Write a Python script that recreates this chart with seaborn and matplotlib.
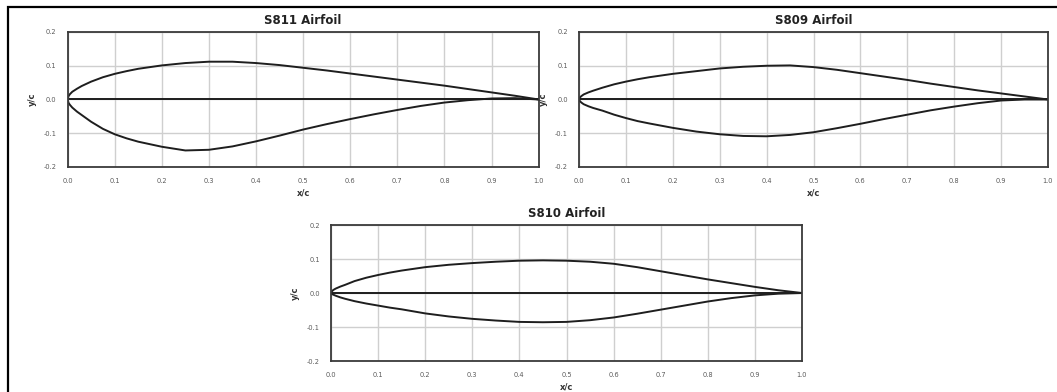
import numpy as np
import pandas as pd
import matplotlib
matplotlib.use("Agg")
import matplotlib.pyplot as plt
from matplotlib.patches import Rectangle
import seaborn as sns

# ---- data ----
x_pts = [0.0, 0.002, 0.005, 0.01, 0.02, 0.03, 0.05, 0.075, 0.1, 0.125, 0.15, 0.2, 0.25, 0.3,
         0.35, 0.4, 0.45, 0.5, 0.55, 0.6, 0.65, 0.7, 0.75, 0.8, 0.85, 0.9, 0.95, 1.0]

s811_upper = [0.0, 0.010, 0.016, 0.023, 0.032, 0.040, 0.053, 0.066, 0.076, 0.084, 0.091, 0.101, 0.108, 0.112,
              0.112, 0.108, 0.102, 0.094, 0.086, 0.077, 0.068, 0.059, 0.050, 0.041, 0.031, 0.021, 0.011, 0.0]
s811_lower = [0.0, -0.010, -0.016, -0.024, -0.036, -0.046, -0.066, -0.087, -0.103, -0.115, -0.125, -0.140, -0.151, -0.149,
              -0.139, -0.124, -0.107, -0.089, -0.073, -0.058, -0.044, -0.031, -0.019, -0.009, -0.002, 0.003, 0.004, 0.0]

s809_upper = [0.0, 0.006, 0.010, 0.015, 0.021, 0.026, 0.035, 0.045, 0.053, 0.060, 0.066, 0.076, 0.084, 0.092,
              0.097, 0.100, 0.101, 0.096, 0.088, 0.078, 0.068, 0.058, 0.047, 0.037, 0.027, 0.018, 0.009, 0.0]
s809_lower = [0.0, -0.005, -0.009, -0.014, -0.020, -0.025, -0.033, -0.045, -0.055, -0.064, -0.071, -0.084, -0.095, -0.103,
              -0.108, -0.109, -0.105, -0.097, -0.085, -0.072, -0.058, -0.045, -0.032, -0.021, -0.011, -0.003, 0.0, 0.0]

s810_upper = [0.0, 0.005, 0.009, 0.013, 0.019, 0.024, 0.035, 0.045, 0.053, 0.060, 0.066, 0.076, 0.083, 0.088,
              0.092, 0.095, 0.096, 0.095, 0.092, 0.086, 0.076, 0.064, 0.052, 0.040, 0.029, 0.018, 0.008, 0.0]
s810_lower = [0.0, -0.003, -0.005, -0.008, -0.013, -0.017, -0.024, -0.031, -0.037, -0.043, -0.048, -0.060, -0.069, -0.076,
              -0.081, -0.085, -0.086, -0.085, -0.080, -0.072, -0.061, -0.049, -0.037, -0.025, -0.015, -0.007, -0.002, 0.0]

chord_x = [0.0, 1.0]
chord_y = [0.0, 0.0]

titles = ["S811 Airfoil", "S809 Airfoil", "S810 Airfoil"]
uppers = [s811_upper, s809_upper, s810_upper]
lowers = [s811_lower, s809_lower, s810_lower]
x_ticks = [0.0, 0.1, 0.2, 0.3, 0.4, 0.5, 0.6, 0.7, 0.8, 0.9, 1.0]
y_ticks = [-0.2, -0.1, 0.0, 0.1, 0.2]

sns.set_theme(style="white")
plt.rcParams['font.family'] = ['DejaVu Sans']

W, H = 1057, 392
fig = plt.figure(figsize=(W / 100, H / 100), dpi=100)

def px_rect(x0, y0, x1, y1):
    return [x0 / W, 1 - y1 / H, (x1 - x0) / W, (y1 - y0) / H]

positions = [px_rect(67.6, 32, 538.7, 167),
             px_rect(579, 32, 1048, 167),
             px_rect(331, 225, 802, 361)]

line_c = "#1e1e1e"
for title, up, lo, pos in zip(titles, uppers, lowers, positions):
    ax = fig.add_axes(pos)
    sns.lineplot(x=x_pts, y=up, ax=ax, color=line_c, lw=1.4, sort=False)
    sns.lineplot(x=x_pts, y=lo, ax=ax, color=line_c, lw=1.4, sort=False)
    sns.lineplot(x=chord_x, y=chord_y, ax=ax, color=line_c, lw=1.4, sort=False)
    ax.set_xlim(0, 1)
    ax.set_ylim(-0.2, 0.2)
    ax.set_xticks(x_ticks)
    ax.set_yticks(y_ticks)
    ax.set_xticklabels([f"{v:.1f}" for v in x_ticks])
    ax.set_yticklabels([f"{v:.1f}" for v in y_ticks])
    ax.grid(True, color="#cfcfcf", lw=1.0)
    ax.set_axisbelow(True)
    for s in ax.spines.values():
        s.set_color("#3a3a3a")
        s.set_linewidth(1.3)
    ax.tick_params(axis="both", length=0, labelsize=4.8, labelcolor="#5a5a5a")
    ax.tick_params(axis="x", pad=8)
    ax.tick_params(axis="y", pad=8)
    ax.set_title(title, fontsize=8.5, fontweight="bold", color="#222222", pad=6)
    ax.set_xlabel("x/c", fontsize=6, fontweight="bold", color="#333333", labelpad=3)
    ax.set_ylabel("y/c", fontsize=6, fontweight="bold", color="#333333", labelpad=5)

# outer frame (cropped screenshot border)
fig.patches.append(Rectangle((8 / W, -0.1), 1.2, 1.1 - 7 / H, transform=fig.transFigure,
                             fill=False, edgecolor="black", lw=1.6))

fig.savefig("out.png", dpi=100, facecolor="white")
